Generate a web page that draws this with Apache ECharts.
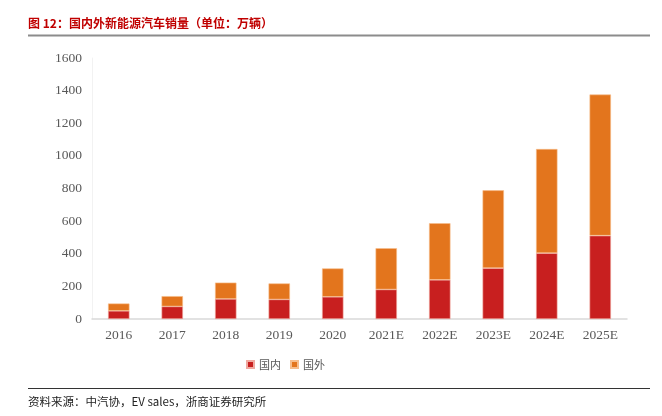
<!DOCTYPE html>
<html><head><meta charset="utf-8">
<script src="https://cdn.jsdelivr.net/npm/echarts@6/dist/echarts.min.js"></script>
<style>html,body{margin:0;padding:0;background:#fff;}#c{width:662px;height:416px;}</style>
</head><body><div id="c"></div>
<script>
const categories = ['2016','2017','2018','2019','2020','2021E','2022E','2023E','2024E','2025E'];
const domestic = [50, 77, 123, 120, 136, 181, 240, 312, 404, 511];
const overseas = [45, 63, 100, 98, 174, 253, 347, 477, 638, 865];
const yTicks = [0, 200, 400, 600, 800, 1000, 1200, 1400, 1600];

const chart = echarts.init(document.getElementById('c'));
chart.setOption({
  animation: false,
  backgroundColor: '#fff',
  grid: {left: 92, right: 35, top: 58, bottom: 97},
  legend: {
    left: 241, top: 354, itemWidth: 7, itemHeight: 7, itemGap: 9,
    icon: 'rect',
    textStyle: {color: '#595959', fontSize: 11, fontFamily: 'Noto Sans CJK SC'},
    data: ['国内', '国外']
  },
  xAxis: {
    type: 'category', data: categories,
    axisLine: {lineStyle: {color: '#D9D9D9', width: 1.5}},
    axisTick: {show: false},
    axisLabel: {color: '#595959', fontSize: 13.5, fontFamily: 'Liberation Serif', margin: 9}
  },
  yAxis: {
    type: 'value', min: 0, max: 1600, interval: 200,
    axisLine: {show: true, lineStyle: {color: '#F2F2F2'}},
    axisTick: {show: false},
    splitLine: {show: false},
    axisLabel: {color: '#595959', fontSize: 13.5, fontFamily: 'Liberation Serif', margin: 10,
      formatter: v => yTicks.includes(v) ? String(v) : ''}
  },
  series: [
    {name: '国内', type: 'bar', stack: 'a', data: domestic, barWidth: '40%',
     itemStyle: {color: '#C81F1F', borderColor: '#F0A9A0', borderWidth: 0.6}},
    {name: '国外', type: 'bar', stack: 'a', data: overseas, barWidth: '40%',
     itemStyle: {color: '#E3751D', borderColor: '#F6BD8C', borderWidth: 0.6}}
  ],
  graphic: [
    {type: 'text', left: 28, top: 17, style: {text: '图 12：国内外新能源汽车销量（单位：万辆）',
      fill: '#C00000', font: 'bold 12px "Noto Sans CJK SC"'}},
    {type: 'line', shape: {x1: 28, y1: 35.5, x2: 650, y2: 35.5}, style: {stroke: '#8C8C8C', lineWidth: 2}},
    {type: 'line', shape: {x1: 28, y1: 388.5, x2: 650, y2: 388.5}, style: {stroke: '#333', lineWidth: 1}},
    {type: 'text', left: 28, top: 396, style: {text: '资料来源：中汽协，EV sales，浙商证券研究所',
      fill: '#222', font: '11.5px "Noto Sans CJK SC"'}}
  ]
});
</script></body></html>
